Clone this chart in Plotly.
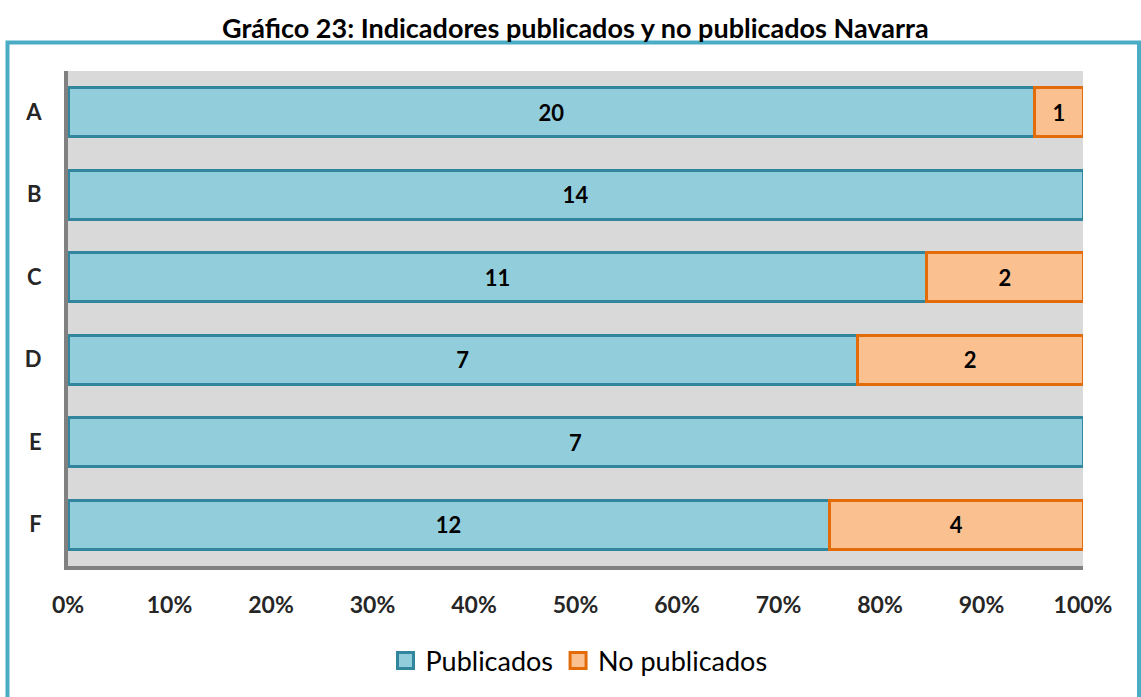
import plotly.graph_objects as go

categories = ["A", "B", "C", "D", "E", "F"]
publicados = [20, 14, 11, 7, 7, 12]
no_publicados = [1, 0, 2, 2, 0, 4]
tick_vals = [0, 10, 20, 30, 40, 50, 60, 70, 80, 90, 100]
tick_text = [f"{v}%" for v in tick_vals]
title_text = "Gráfico 23: Indicadores publicados y no publicados Navarra"

W, H = 1141, 697
# plot area in pixels
L, R, T, B = 68, 1083, 71, 566
FONT = "Lato"
BLUE_FILL, BLUE_LINE = "#92CDDC", "#31859C"
ORANGE_FILL, ORANGE_LINE = "#FAC090", "#E36C09"

def nz(vals):
    return [v if v != 0 else None for v in vals]

def px_x(p):
    return (p - L) / (R - L)

def px_y(p):
    return (B - p) / (B - T)

fig = go.Figure()
for name, vals, fill, line in [("Publicados", publicados, BLUE_FILL, BLUE_LINE),
                               ("No publicados", no_publicados, ORANGE_FILL, ORANGE_LINE)]:
    fig.add_trace(go.Bar(
        y=categories, x=nz(vals), orientation="h", name=name, showlegend=False,
        text=nz(vals), textposition="inside", insidetextanchor="middle",
        textangle=0, constraintext="none",
        textfont=dict(family=FONT, size=22, color="black", weight="bold"),
        marker=dict(color=fill, line=dict(color=line, width=3)),
    ))
# legend entries
for name, fill, line in [("Publicados", BLUE_FILL, BLUE_LINE),
                         ("No publicados", ORANGE_FILL, ORANGE_LINE)]:
    fig.add_trace(go.Scatter(
        x=[None], y=[None], mode="markers", name=name, showlegend=True,
        marker=dict(symbol="square", size=16, color=fill, line=dict(color=line, width=3)),
    ))

fig.update_layout(
    width=W, height=H,
    margin=dict(l=L, r=W - R, t=T, b=H - B, autoexpand=False),
    barmode="stack", barnorm="percent", bargap=0.41,
    plot_bgcolor="#D9D9D9", paper_bgcolor="white",
    font=dict(family=FONT, color="#262626"),
    showlegend=True,
    legend=dict(orientation="h", x=px_x(579), xanchor="center", y=px_y(661), yanchor="middle",
                font=dict(family=FONT, size=27, color="black"), traceorder="normal",
                itemsizing="trace", itemwidth=30, bgcolor="rgba(0,0,0,0)"),
    xaxis=dict(range=[0, 100], tickvals=tick_vals, ticktext=tick_text, showgrid=False,
               zeroline=False, showline=True, linecolor="#808080", linewidth=4,
               ticks="", ticklabelstandoff=15, fixedrange=True,
               tickfont=dict(family=FONT, size=23, color="#262626", weight="bold")),
    yaxis=dict(categoryorder="array", categoryarray=categories, autorange="reversed",
               showgrid=False, zeroline=False, showline=True, linecolor="#808080", linewidth=4,
               ticks="", ticklabelstandoff=18, fixedrange=True,
               tickfont=dict(family=FONT, size=22, color="#262626", weight="bold")),
    annotations=[dict(text=f"<b>{title_text}</b>", x=px_x(575), y=px_y(27), xref="paper", yref="paper",
                      xanchor="center", yanchor="middle", showarrow=False,
                      font=dict(family=FONT, size=27, color="black"))],
    shapes=[dict(type="rect", xref="paper", yref="paper",
                 x0=px_x(7.5), x1=px_x(1139), y0=px_y(720), y1=px_y(42.5),
                 line=dict(color="#4BACC6", width=4), fillcolor="rgba(0,0,0,0)", layer="below")],
)

fig.write_html("out.html", config={"displayModeBar": False},
               post_script="document.body.style.margin='0';document.body.style.overflow='hidden';")
